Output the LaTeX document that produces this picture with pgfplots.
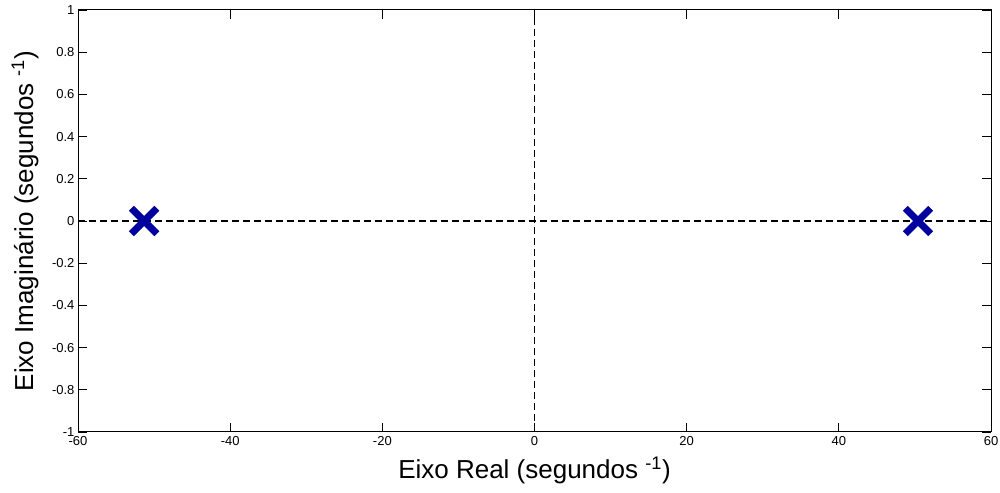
\documentclass[border=0pt]{standalone}
\usepackage{pgfplots}
\pgfplotsset{compat=1.18}
\usepackage{fontspec}
\setmainfont{Liberation Sans}
\definecolor{mblue}{rgb}{0.0,0.0,0.62}
\begin{document}
\begin{tikzpicture}
\useasboundingbox (0,0) rectangle (1000pt,492pt);
\begin{axis}[
  at={(78pt,60pt)}, anchor=south west,
  scale only axis, width=913pt, height=422pt,
  xmin=-60, xmax=60, ymin=-1, ymax=1,
  xtick={-60,-40,-20,0,20,40,60},
  ytick={-1,-0.8,-0.6,-0.4,-0.2,0,0.2,0.4,0.6,0.8,1},
  yticklabels={-1,-0.8,-0.6,-0.4,-0.2,0,0.2,0.4,0.6,0.8,1},
  xticklabels={-60,-40,-20,0,20,40,60},
  tick align=inside, major tick length=9pt,
  tick style={black, line width=0.8pt},
  axis line style={line width=1pt},
  ticklabel style={font=\fontsize{13}{15}\selectfont},
  /pgf/number format/assume math mode=true,
  xticklabel style={yshift=-1pt},
  yticklabel style={xshift=0pt},
  every axis x label/.style={at={(axis description cs:0.5,0)}, anchor=center, yshift=-38pt},
  every axis y label/.style={at={(axis description cs:0,0.5)}, rotate=90, anchor=center, yshift=53pt},
  xlabel={Eixo Real (segundos \textsuperscript{-1})},
  ylabel={Eixo Imaginário (segundos \textsuperscript{-1})},
  label style={font=\fontsize{26}{30}\selectfont},
]
\addplot[black, line width=1.8pt, dash pattern=on 7pt off 4pt] coordinates {(-60,0) (60,0)};
\addplot[black, line width=1.8pt, dash pattern=on 7pt off 4pt] coordinates {(0,-1) (0,1)};
\addplot[only marks, mark=x, mark size=18pt, mblue, line width=7pt] coordinates {(-51.3,0) (50.4,0)};
\end{axis}
\end{tikzpicture}
\end{document}
